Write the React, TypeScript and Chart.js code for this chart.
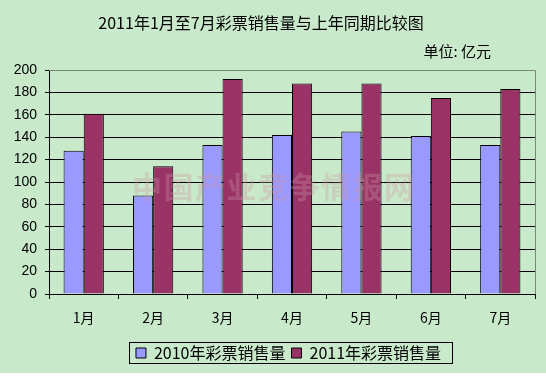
import React, { useEffect, useRef } from "react";
import { Chart, registerables } from "chart.js";

Chart.register(...registerables);

const categories = ["1月", "2月", "3月", "4月", "5月", "6月", "7月"];
const seriesNames = ["2010年彩票销售量", "2011年彩票销售量"];
const sales2010 = [128, 88, 133, 142, 145, 141, 133];
const sales2011 = [161, 114, 192, 188, 188, 175, 183];
const yMin = 0;
const yMax = 200;
const yStep = 20;
const titleText = "2011年1月至7月彩票销售量与上年同期比较图";
const unitText = "单位: 亿元";
const watermarkText = "中国产业竞争情报网";

const BG = "rgb(200,234,202)";
const CJK = '"Noto Sans CJK SC", "Noto Sans", sans-serif';
const LEGEND_PAD = 6;
const LEGEND_FONT = 16;
const LEGEND_SHIFT = 21;

const decor = {
  id: "decor",
  afterUpdate(chart: any) {
    const lg = chart.legend;
    if (lg) {
      lg.left += LEGEND_SHIFT;
      lg.right += LEGEND_SHIFT;
      if (lg.adjustHitBoxes) lg.adjustHitBoxes();
    }
  },
  beforeDraw(chart: any) {
    const { ctx, width, height } = chart;
    ctx.save();
    ctx.fillStyle = "#ffffff";
    ctx.fillRect(0, 0, width, height);
    ctx.fillStyle = BG;
    ctx.fillRect(0, 0, width, 373);
    ctx.restore();
  },
  afterDatasetsDraw(chart: any) {
    const { ctx, chartArea } = chart;
    ctx.save();
    ctx.font = 'bold 30px ' + CJK;
    ctx.fillStyle = "rgba(205,150,165,0.33)";
    ctx.textAlign = "center";
    ctx.textBaseline = "middle";
    const cx = (chartArea.left + chartArea.right) / 2 - 19;
    const cy = 187;
    const chars = Array.from(watermarkText);
    const step = 31.5;
    const x0 = cx - ((chars.length - 1) * step) / 2;
    chars.forEach((c, i) => ctx.fillText(c, x0 + i * step, cy));
    ctx.restore();
  },
  afterDraw(chart: any) {
    const { ctx, chartArea } = chart;
    ctx.save();
    ctx.strokeStyle = "#7a8a7a";
    ctx.lineWidth = 1;
    const t = Math.round(chartArea.top) + 0.5;
    const r = Math.round(chartArea.right) + 0.5;
    ctx.beginPath();
    ctx.moveTo(chartArea.left, t);
    ctx.lineTo(r, t);
    ctx.lineTo(r, chartArea.bottom);
    ctx.stroke();
    ctx.fillStyle = "#000";
    ctx.font = "16px " + CJK;
    ctx.textAlign = "center";
    ctx.textBaseline = "middle";
    ctx.fillText(titleText, 261, 23);
    ctx.font = "15px " + CJK;
    ctx.textAlign = "right";
    ctx.fillText(unitText, 491, 51);
    const lg = chart.legend;
    if (lg && lg.lineWidths && lg.lineWidths.length) {
      const lw = lg.lineWidths[0];
      const x0 = (lg.left + LEGEND_PAD + lg.right - lw) / 2;
      const left = Math.round(x0 - 7) + 0.5;
      const right = Math.round(x0 + lw - LEGEND_PAD + 11) + 0.5;
      const top = Math.round(lg.top + LEGEND_PAD - 3) + 0.5;
      const bottom = Math.round(lg.top + LEGEND_PAD + LEGEND_FONT + 2) + 0.5;
      ctx.strokeStyle = "#000";
      ctx.lineWidth = 1;
      ctx.strokeRect(left, top, right - left, bottom - top);
    }
    ctx.restore();
  },
};

export default function App() {
  const ref = useRef<HTMLCanvasElement | null>(null);
  useEffect(() => {
    document.body.style.margin = "0";
    const canvas = ref.current!;
    const chart = new Chart(canvas, {
      type: "bar",
      data: {
        labels: categories,
        datasets: [
          {
            label: seriesNames[0],
            data: sales2010,
            backgroundColor: "#9999ff",
            borderColor: "#000",
            borderWidth: 1,
          },
          {
            label: seriesNames[1],
            data: sales2011,
            backgroundColor: "#993366",
            borderColor: "#000",
            borderWidth: 1,
          },
        ],
      },
      options: {
        animation: false,
        responsive: false,
        maintainAspectRatio: false,
        devicePixelRatio: 1,
        layout: { padding: { top: 70, left: 0, right: 11, bottom: 7 } },
        datasets: {
          bar: { categoryPercentage: 0.58, barPercentage: 1 },
        },
        plugins: {
          title: { display: false },
          tooltip: { enabled: false },
          legend: {
            display: true,
            position: "bottom",
            labels: {
              boxWidth: 10,
              boxHeight: 10,
              padding: LEGEND_PAD,
              color: "#000",
              font: { size: LEGEND_FONT, family: CJK },
            },
          },
        },
        scales: {
          x: {
            afterFit: (s: any) => {
              s.height = 45;
            },
            grid: {
              display: true,
              offset: true,
              drawOnChartArea: false,
              drawTicks: true,
              tickLength: 5,
              color: "#000",
            },
            border: { display: true, color: "#000", width: 1 },
            ticks: {
              color: "#000",
              padding: 10,
              font: { size: 14, family: CJK },
            },
          },
          y: {
            min: yMin,
            max: yMax,
            afterFit: (s: any) => {
              s.width = 49;
            },
            grid: {
              display: true,
              drawTicks: true,
              tickLength: 4,
              color: (c: any) => (c.tick && c.tick.value === yMax ? "rgba(0,0,0,0)" : "#000"),
              tickColor: "#000",
            },
            border: { display: true, color: "#000", width: 1 },
            ticks: {
              stepSize: yStep,
              color: "#000",
              padding: 8,
              font: { size: 14, family: '"Liberation Sans", Arial, sans-serif' },
            },
          },
        },
      },
      plugins: [decor],
    });
    return () => chart.destroy();
  }, []);
  return (
    <div style={{ position: "absolute", left: 0, top: 0, width: 546, height: 378 }}>
      <canvas ref={ref} width={546} height={378} style={{ width: 546, height: 378, display: "block" }} />
    </div>
  );
}
